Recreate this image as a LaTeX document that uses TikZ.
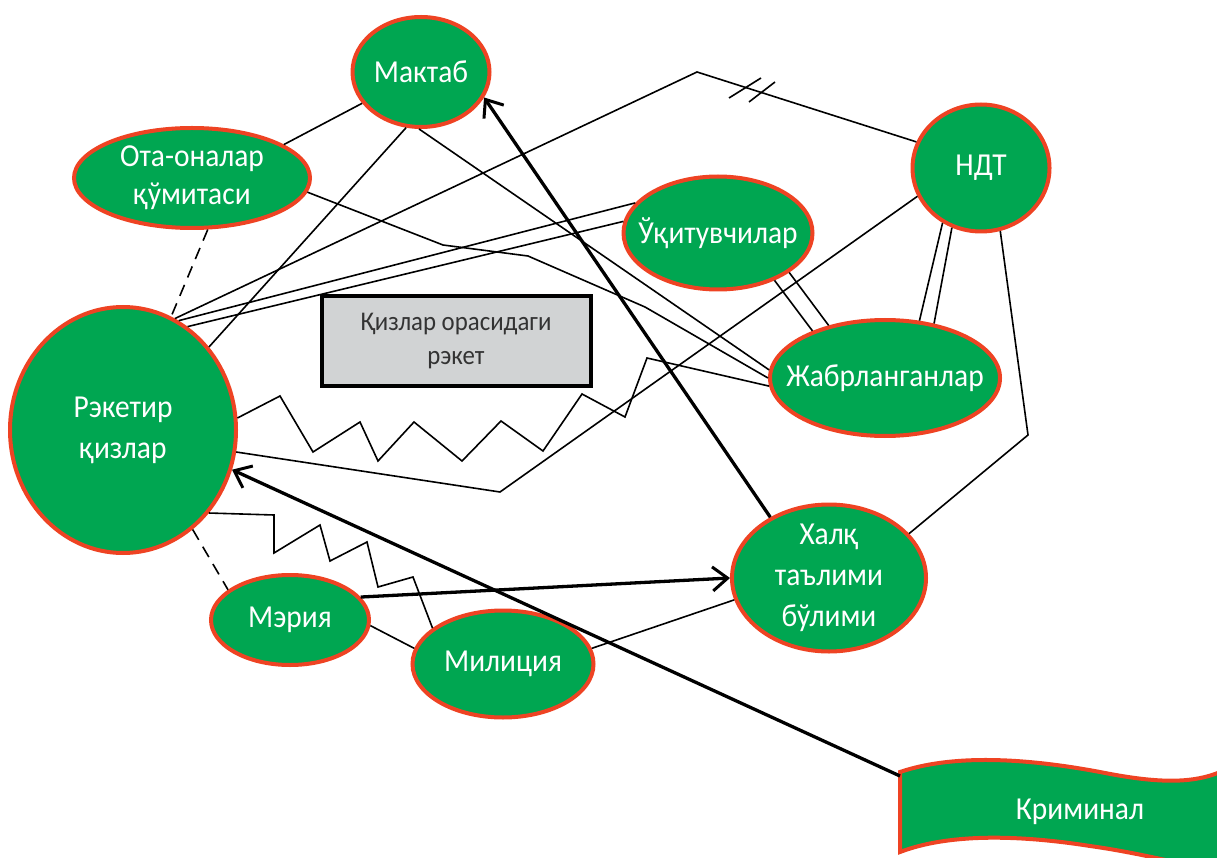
\documentclass[tikz,border=0pt]{standalone}
\usepackage{fontspec}
\setmainfont{Carlito}[FakeStretch=0.92]
\usetikzlibrary{shapes.geometric,arrows.meta}
\definecolor{gr}{HTML}{00A651}
\definecolor{rd}{HTML}{EE4323}
\definecolor{bx}{HTML}{D1D3D4}
\definecolor{tx}{HTML}{333333}
\tikzset{
  ell/.style={ellipse, fill=gr, draw=rd, line width=4pt, inner sep=0pt},
  lbl/.style={text=white, font=\fontsize{32}{41}\selectfont, align=center, inner sep=0pt},
  ln/.style={line width=1.6pt, line join=miter},
  dsh/.style={line width=1.6pt, dash pattern=on 12pt off 8pt},
  thk/.style={line width=3.3pt, -{Straight Barb[length=15pt,width=24pt,line width=3pt]}},
}
\begin{document}
\begin{tikzpicture}[x=1pt,y=-1pt]
\useasboundingbox (0,0) rectangle (1217,858);
% Kriminal banner
\begin{scope}
\clip (0,0) rectangle (1217,858);
\draw[fill=gr, draw=rd, line width=4pt] (900,772) .. controls (950,755) and (1020,757) .. (1100,772) .. controls (1160,784) and (1200,785) .. (1232,766) -- (1232,874) .. controls (1180,864) and (1140,853) .. (1090,846) .. controls (1020,835) and (950,833) .. (900,852) -- cycle;
\end{scope}
\node[lbl] (krim) at (1080,812) {Криминал};
\coordinate (krimc) at (900,776);

% nodes
\node[ell, minimum width=137pt, minimum height=110pt, label={[lbl]center:Мактаб}] (mak) at (421,72) {};
\node[ell, minimum width=236pt, minimum height=100pt, label={[lbl]center:{Ота-оналар\\[-3pt]қўмитаси}}] (ota) at (192,178) {};
\node[ell, minimum width=226pt, minimum height=246pt, label={[lbl]center:{Рэкетир\\қизлар}}] (rek) at (123,430) {};
\node[ell, minimum width=189pt, minimum height=113pt, label={[lbl]center:Ўқитувчилар}] (ukit) at (718,233) {};
\node[ell, minimum width=137pt, minimum height=127pt, label={[lbl]center:НДТ}] (ndt) at (981,168) {};
\node[ell, minimum width=230pt, minimum height=116pt, label={[lbl]center:Жабрланганлар}] (jab) at (885,378) {};
\node[ell, minimum width=194pt, minimum height=147pt, label={[lbl]center:{Халқ\\таълими\\бўлими}}] (halq) at (829,578) {};
\node[ell, minimum width=158pt, minimum height=90pt, label={[lbl]center:Мэрия}] (meria) at (290,620) {};
\node[ell, minimum width=181pt, minimum height=107pt, label={[lbl]center:Милиция}] (mil) at (503,664) {};
\node[draw=black, line width=4pt, fill=bx, minimum width=269pt, minimum height=89pt, inner sep=0pt,
      text=tx, font=\fontsize{27}{34}\selectfont, align=center] (box) at (456,341) {Қизлар орасидаги\\рэкет};

% thin connectors
\draw[ln] (mak.208) -- (ota.20);
\draw[dsh] (ota.287) -- (rek.67);
\draw[ln] (mak.255) -- (rek.44);
\draw[ln] (mak.268) -- (jab.176);
\draw[ln] (ota.-7) -- (443,245) -- (528,256) -- (645,307) -- (jab.180);
\draw[ln] (rek.63) -- (ukit.160);
\draw[ln] (rek.58) -- (ukit.173);
\draw[ln] (rek.-11) -- (500,492) -- (ndt.204);
\draw[ln] (rek.6) -- (280,396) -- (313,452) -- (360,422) -- (378,461) -- (414,422) -- (462,461) -- (501,421) -- (543,451) -- (582,394) -- (625,417) -- (647,358) -- (jab.184);
\draw[ln] (rek.-44) -- (274,515) -- (274,553) -- (320,525) -- (330,561) -- (367,542) -- (378,587) -- (413,577) -- (mil.153);
\draw[dsh] (rek.-55) -- (meria.154);
\draw[ln] (meria.-4) -- (mil.170);
\draw[ln] (mil.10) -- (halq.193);
\draw[ln] (halq.29) -- (1028,435) -- (ndt.-73);
\draw[ln] (ndt.235) -- (jab.59);
\draw[ln] (ndt.244) -- (jab.48);
\draw[ln] (ukit.-40) -- (jab.147);
\draw[ln] (ukit.-29) -- (jab.137);
\draw[ln] (rek.65) -- (697,72) -- (ndt.158);
% double slash marks
\draw[ln] (729,98) -- (761,78);
\draw[ln] (749,102) -- (775,82);

% thick arrows
\draw[thk] (halq.134) -- (mak.-22);
\draw[thk] (meria.18) -- (halq.180);
\draw[thk] (krimc) -- (rek.-20);
\end{tikzpicture}
\end{document}
